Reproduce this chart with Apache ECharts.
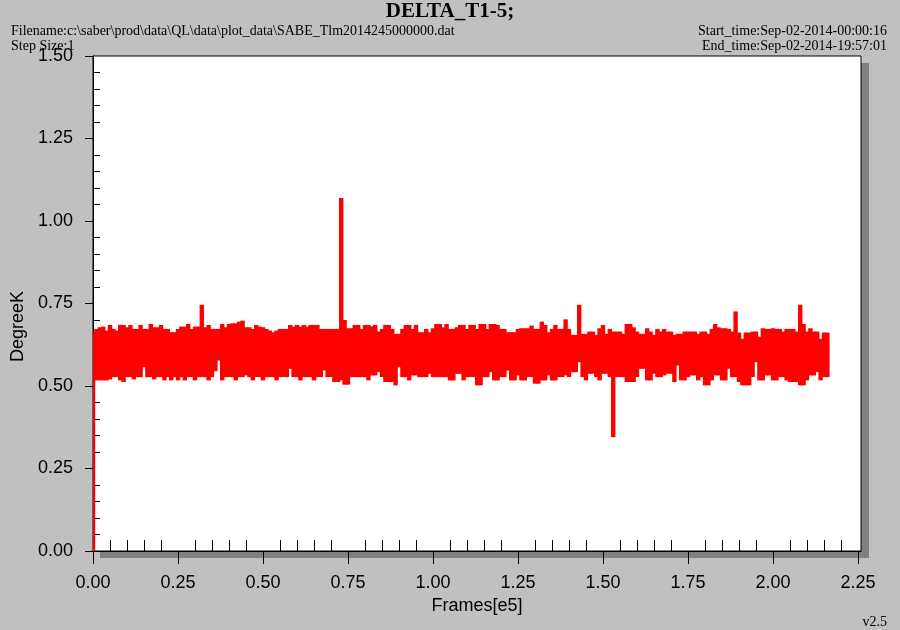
<!DOCTYPE html>
<html><head><meta charset="utf-8">
<script src="https://cdn.jsdelivr.net/npm/echarts@6/dist/echarts.min.js"></script>
<style>html,body{margin:0;padding:0;background:#c0c0c0}#chart{width:900px;height:630px}</style>
</head><body><div id="chart"></div>
<script>
// Sampling grid of the envelope (Frames[e5])
const frameStart = 0;
const frameStep = 0.01;
// Upper envelope of DELTA_T1-5 (DegreeK) per sample
const upper = [
0.663,0.673,0.678,0.680,0.668,0.685,0.673,0.668,0.685,0.685,
0.678,0.685,0.673,0.673,0.685,0.673,0.673,0.688,0.678,0.678,
0.685,0.673,0.673,0.663,0.663,0.673,0.680,0.680,0.688,0.673,
0.680,0.680,0.746,0.678,0.685,0.673,0.673,0.673,0.688,0.678,
0.688,0.690,0.690,0.695,0.698,0.678,0.678,0.673,0.685,0.680,
0.678,0.673,0.668,0.663,0.668,0.673,0.673,0.673,0.685,0.680,
0.685,0.680,0.685,0.680,0.685,0.685,0.685,0.673,0.673,0.673,
0.673,0.673,0.673,1.070,0.700,0.675,0.675,0.685,0.685,0.673,
0.685,0.685,0.681,0.685,0.665,0.673,0.685,0.685,0.673,0.658,
0.658,0.673,0.685,0.685,0.673,0.685,0.663,0.663,0.673,0.663,
0.675,0.688,0.688,0.678,0.688,0.673,0.673,0.678,0.685,0.685,
0.673,0.685,0.685,0.673,0.688,0.688,0.673,0.688,0.688,0.685,
0.673,0.673,0.663,0.663,0.663,0.673,0.675,0.675,0.675,0.683,
0.673,0.673,0.695,0.685,0.663,0.673,0.685,0.673,0.673,0.702,
0.673,0.655,0.655,0.746,0.658,0.658,0.665,0.665,0.655,0.675,
0.685,0.658,0.673,0.665,0.665,0.665,0.658,0.688,0.688,0.678,
0.665,0.658,0.658,0.675,0.665,0.655,0.673,0.665,0.673,0.665,
0.665,0.655,0.658,0.658,0.665,0.665,0.665,0.665,0.658,0.665,
0.665,0.658,0.673,0.688,0.678,0.675,0.675,0.673,0.665,0.726,
0.662,0.643,0.662,0.662,0.665,0.665,0.649,0.675,0.673,0.673,
0.675,0.673,0.673,0.665,0.673,0.673,0.673,0.665,0.746,0.688,
0.665,0.675,0.665,0.665,0.643,0.662,0.662
];
// Lower envelope per sample
const lower = [
0.000,0.517,0.517,0.517,0.517,0.520,0.527,0.527,0.517,0.512,
0.527,0.527,0.520,0.527,0.527,0.557,0.527,0.527,0.520,0.527,
0.527,0.517,0.527,0.517,0.527,0.517,0.527,0.517,0.527,0.527,
0.517,0.527,0.527,0.527,0.517,0.527,0.545,0.577,0.517,0.527,
0.527,0.527,0.517,0.527,0.527,0.532,0.527,0.517,0.527,0.527,
0.517,0.527,0.527,0.527,0.517,0.527,0.527,0.527,0.552,0.527,
0.527,0.517,0.527,0.527,0.527,0.517,0.527,0.527,0.547,0.527,
0.527,0.512,0.512,0.517,0.504,0.504,0.527,0.527,0.527,0.527,
0.527,0.517,0.532,0.532,0.542,0.527,0.512,0.512,0.512,0.502,
0.557,0.527,0.527,0.517,0.532,0.532,0.527,0.527,0.527,0.537,
0.527,0.527,0.527,0.527,0.527,0.517,0.517,0.537,0.537,0.517,
0.527,0.527,0.527,0.502,0.502,0.527,0.527,0.542,0.517,0.517,
0.527,0.527,0.547,0.517,0.517,0.532,0.517,0.517,0.527,0.527,
0.507,0.507,0.517,0.517,0.532,0.517,0.517,0.527,0.527,0.532,
0.527,0.542,0.542,0.572,0.527,0.517,0.537,0.537,0.527,0.517,
0.537,0.537,0.527,0.345,0.527,0.527,0.527,0.512,0.512,0.512,
0.527,0.552,0.552,0.517,0.517,0.537,0.527,0.527,0.532,0.537,
0.537,0.512,0.562,0.517,0.517,0.527,0.532,0.532,0.517,0.527,
0.502,0.502,0.517,0.532,0.532,0.517,0.517,0.552,0.527,0.527,
0.512,0.502,0.502,0.502,0.527,0.572,0.517,0.517,0.532,0.532,
0.517,0.517,0.527,0.527,0.517,0.512,0.512,0.512,0.502,0.502,
0.517,0.532,0.532,0.542,0.517,0.527,0.527
];
const xTickLabels = [0, 0.25, 0.5, 0.75, 1.0, 1.25, 1.5, 1.75, 2.0, 2.25];
const xMax = 2.2588;

const frames = upper.map((_, i) => +(frameStart + i * frameStep).toFixed(2));
const bandData = frames.map((x, i) => [x, lower[i], upper[i]]);

const RED = '#ff0000';
const sans = 'Liberation Sans, Arial, sans-serif';
const serif = 'Liberation Serif, Times New Roman, serif';
const small = {fontFamily: serif, fontSize: 14, fontWeight: 'normal', color: '#000'};
const black = {color: '#000', width: 1};
const P = 1; // index of plot grid

function renderBand(params, api) {
  const x = api.value(0);
  const top = api.coord([x, api.value(2)]);
  const bottom = api.coord([x, api.value(1)]);
  const w = api.size([frameStep, 0])[0] + 1;
  return {
    type: 'rect',
    shape: {x: top[0] - w / 2, y: top[1], width: w, height: Math.max(bottom[1] - top[1], 1)},
    style: {fill: RED}
  };
}

const chart = echarts.init(document.getElementById('chart'), null, {renderer: 'canvas'});
chart.setOption({
  animation: false,
  backgroundColor: '#c0c0c0',
  title: [
    {text: 'DELTA_T1-5;', left: 'center', top: 1, padding: 0,
     textStyle: {fontFamily: serif, fontWeight: 'bold', fontSize: 21, color: '#000'}},
    {text: 'Filename:c:\\saber\\prod\\data\\QL\\data\\plot_data\\SABE_Tlm2014245000000.dat', left: 11, top: 24, padding: 0, textStyle: small},
    {text: 'Step Size:1', left: 11, top: 39, padding: 0, textStyle: small},
    {text: 'Start_time:Sep-02-2014-00:00:16', right: 13, top: 24, padding: 0, textStyle: small},
    {text: 'End_time:Sep-02-2014-19:57:01', right: 13, top: 39, padding: 0, textStyle: small},
    {text: 'v2.5', right: 13, top: 615, padding: 0, textStyle: small}
  ],
  grid: [
    {left: 100, top: 63, width: 769, height: 495, show: true,
     backgroundColor: '#808080', borderWidth: 0},
    {left: 93, top: 56, width: 768, height: 495, show: true,
     backgroundColor: '#ffffff', borderColor: '#000', borderWidth: 1}
  ],
  xAxis: [
    {gridIndex: P, type: 'value', min: 0, max: xMax, interval: 0.25, position: 'bottom',
     axisLine: {show: true, onZero: false, lineStyle: black},
     axisTick: {show: true, inside: false, length: 13, customValues: xTickLabels, lineStyle: black},
     minorTick: {show: false},
     axisLabel: {customValues: xTickLabels, formatter: v => v.toFixed(2), margin: 23,
                 fontFamily: sans, fontSize: 18, color: '#000'},
     splitLine: {show: false},
     name: 'Frames[e5]', nameLocation: 'middle', nameGap: 45,
     nameTextStyle: {fontFamily: sans, fontSize: 18, color: '#000'}},
    {gridIndex: P, type: 'value', min: 0, max: xMax, interval: 0.25, position: 'bottom',
     axisLine: {show: false},
     axisTick: {show: false, inside: true},
     minorTick: {show: true, splitNumber: 5, length: 11, lineStyle: black},
     axisLabel: {show: false}, splitLine: {show: false}}
  ],
  yAxis: [
    {gridIndex: P, type: 'value', min: 0, max: 1.5, interval: 0.25, position: 'left',
     axisLine: {show: true, onZero: false, lineStyle: black},
     axisTick: {show: true, inside: false, length: 8, lineStyle: black},
     axisLabel: {formatter: v => v.toFixed(2), margin: 20, fontFamily: sans, fontSize: 18, color: '#000'},
     splitLine: {show: false},
     name: 'DegreeK', nameLocation: 'middle', nameGap: 66,
     nameTextStyle: {fontFamily: sans, fontSize: 18, color: '#000', padding: [0, 46, 0, 0]}},
    {gridIndex: P, type: 'value', min: 0, max: 1.5, interval: 0.25, position: 'left',
     axisLine: {show: false},
     axisTick: {show: false, inside: true},
     minorTick: {show: true, splitNumber: 5, length: 7, lineStyle: black},
     axisLabel: {show: false}, splitLine: {show: false}}
  ],
  series: [
    {name: 'DELTA_T1-5', type: 'custom', xAxisIndex: 0, yAxisIndex: 0,
     renderItem: renderBand, clip: true,
     encode: {x: 0, y: [1, 2]},
     data: bandData}
  ]
});
</script>
</body></html>
